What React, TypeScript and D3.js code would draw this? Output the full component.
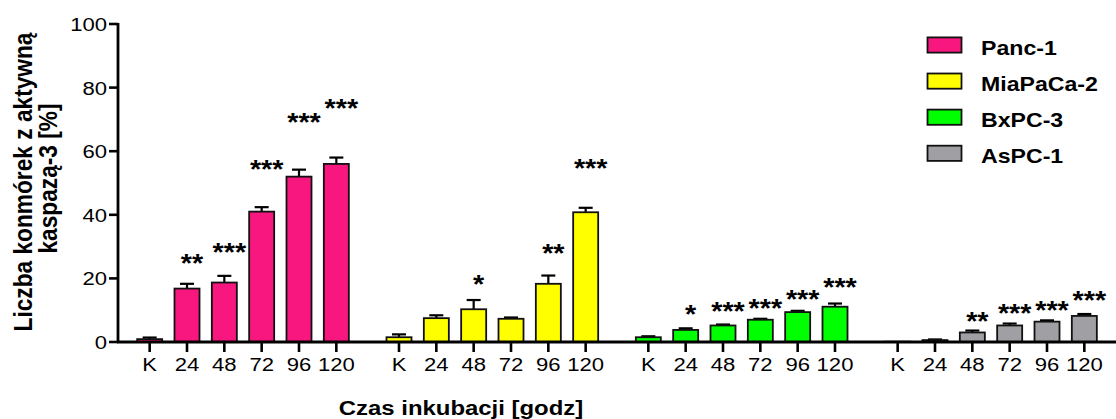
import React from "react";
import * as d3 from "d3";

const groups = ["Panc-1", "MiaPaCa-2", "BxPC-3", "AsPC-1"];
const times = ["K", "24", "48", "72", "96", "120"];
const colors = ["#f7177f", "#ffff00", "#00ff00", "#a0a0a4"];

const pancMean = [0.9, 16.8, 18.7, 41.0, 52.0, 56.0];
const pancSem = [0.5, 1.5, 2.1, 1.4, 2.2, 2.0];
const miaMean = [1.5, 7.5, 10.3, 7.3, 18.3, 40.8];
const miaSem = [0.9, 0.9, 2.9, 0.4, 2.6, 1.4];
const bxMean = [1.5, 3.8, 5.2, 7.0, 9.4, 11.1];
const bxSem = [0.3, 0.5, 0.3, 0.3, 0.4, 1.0];
const asMean = [0.1, 0.6, 3.0, 5.2, 6.4, 8.2];
const asSem = [0.0, 0.2, 0.6, 0.6, 0.4, 0.6];

const pancStars = ["", "**", "***", "***", "***", "***"];
const pancStarLevel = [0, 26.5, 30.1, 56.2, 70.9, 75.3];
const miaStars = ["", "", "*", "", "**", "***"];
const miaStarLevel = [0, 0, 19.8, 0, 29.5, 56.4];
const bxStars = ["", "*", "***", "***", "***", "***"];
const bxStarLevel = [0, 10.4, 11.3, 12.4, 15.1, 19.1];
const asStars = ["", "", "**", "***", "***", "***"];
const asStarLevel = [0, 0, 8.2, 10.7, 11.6, 14.8];

const yTicks = [0, 20, 40, 60, 80, 100];

const means = [pancMean, miaMean, bxMean, asMean];
const sems = [pancSem, miaSem, bxSem, asSem];
const stars = [pancStars, miaStars, bxStars, asStars];
const starLevels = [pancStarLevel, miaStarLevel, bxStarLevel, asStarLevel];

const W = 1116;
const H = 419;
const FONT = "'Liberation Sans', Arial, sans-serif";

function T(props: any) {
  const { x, y, size, bold, anchor, rotate, dy, sx = 1.15, children } = props;
  return (
    <text
      transform={`translate(${x},${y}) scale(${sx},1)${rotate ? ` rotate(${rotate})` : ""}`}
      fontSize={size}
      fontWeight={bold ? "bold" : "normal"}
      textAnchor={anchor || "start"}
      dy={dy}
      fill="#000"
      fontFamily={FONT}
    >
      {children}
    </text>
  );
}

export default function App() {
  const axisX = 118;
  const y = d3.scaleLinear().domain([0, 100]).range([342, 24]);
  const x0 = d3.scaleBand().domain(groups).range([131, 1103]).paddingInner(0.1016).paddingOuter(0);
  const x1 = d3
    .scaleBand()
    .domain(times)
    .range([0, x0.bandwidth()])
    .paddingInner(0.33)
    .paddingOuter(0.165);
  const bw = x1.bandwidth();
  const capW = 14;

  return (
    <svg width={W} height={H} style={{ position: "absolute", left: 0, top: 0, background: "#fff" }}>
      <rect x={0} y={0} width={W} height={H} fill="#fff" />
      {groups.map((g, gi) => (
        <g key={g}>
          {times.map((t, ti) => {
            const cx = (x0(g) as number) + (x1(t) as number) + bw / 2;
            const m = means[gi][ti];
            const s = sems[gi][ti];
            return (
              <g key={t}>
                {s > 0 && (
                  <g stroke="#000" strokeWidth={2.2}>
                    <line x1={cx} x2={cx} y1={y(m)} y2={y(m + s)} />
                    <line x1={cx - capW / 2} x2={cx + capW / 2} y1={y(m + s)} y2={y(m + s)} />
                  </g>
                )}
                <rect
                  x={cx - bw / 2}
                  y={y(m)}
                  width={bw}
                  height={y(0) - y(m)}
                  fill={colors[gi]}
                  stroke="#111"
                  strokeWidth={1.8}
                />
                {stars[gi][ti] && (
                  <T x={cx + 5} y={y(starLevels[gi][ti])} size={25} bold anchor="middle" dy="0.57em">
                    {stars[gi][ti]}
                  </T>
                )}
              </g>
            );
          })}
        </g>
      ))}

      <line x1={axisX - 1} x2={W} y1={y(0)} y2={y(0)} stroke="#000" strokeWidth={2.8} />
      {groups.map((g) =>
        times.map((t) => {
          const cx = (x0(g) as number) + (x1(t) as number) + bw / 2;
          return (
            <g key={g + t}>
              <line x1={cx} x2={cx} y1={y(0)} y2={y(0) + 10} stroke="#000" strokeWidth={2.6} />
              <T x={cx} y={370.5} size={19.2} anchor="middle">
                {t}
              </T>
            </g>
          );
        })
      )}

      <line x1={axisX} x2={axisX} y1={y(100) - 1} y2={y(0) + 1} stroke="#000" strokeWidth={2.8} />
      {yTicks.map((v) => (
        <g key={v}>
          <line x1={axisX - 9} x2={axisX} y1={y(v)} y2={y(v)} stroke="#000" strokeWidth={2.6} />
          <T x={107} y={y(v) + 6.9} size={19.2} anchor="end">
            {v}
          </T>
        </g>
      ))}

      <T x={31.5} y={182} size={22.7} bold anchor="middle" rotate={-90} sx={1.12}>
        Liczba konmórek z aktywną
      </T>
      <T x={57} y={178.5} size={22.7} bold anchor="middle" rotate={-90} sx={1.12}>
        kaspazą-3 [%]
      </T>
      <T x={461} y={415} size={20.8} bold anchor="middle">
        Czas inkubacji [godz]
      </T>

      {groups.map((g, i) => {
        const cy = 45 + i * 36.1;
        return (
          <g key={g}>
            <rect x={927.5} y={cy - 7.6} width={34} height={15.2} fill={colors[i]} stroke="#111" strokeWidth={1.8} />
            <T x={981} y={cy + 9.5} size={19.6} bold sx={1.18}>
              {g}
            </T>
          </g>
        );
      })}
    </svg>
  );
}
